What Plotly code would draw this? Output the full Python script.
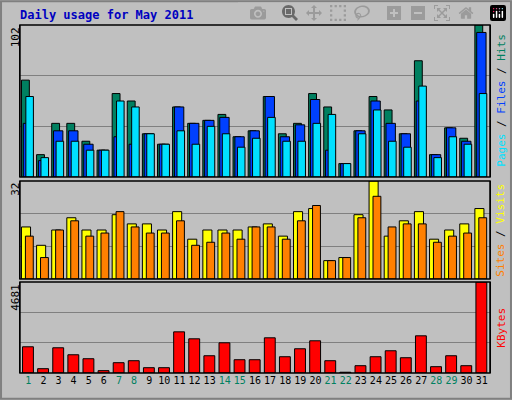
import plotly.graph_objects as go

days = list(range(1, 32))
hits = [65,15,36,36,24,18,56,51,29,22,47,36,38,42,27,31,54,29,36,56,47,9,31,54,45,29,78,15,33,26,102]
files = [36,11,31,31,22,18,27,22,29,22,47,36,38,40,27,31,54,27,35,52,18,9,31,51,36,29,51,15,33,24,97]
pages = [54,13,24,24,18,18,51,47,29,22,31,22,34,29,20,26,40,24,24,36,42,9,29,45,24,20,61,13,27,22,56]
sites = [17,11,16,20,16,16,21,18,18,16,22,13,16,16,16,17,18,14,22,23,6,7,21,32,14,19,22,13,16,18,23]
visits = [14,7,16,19,14,15,22,17,15,15,19,11,12,15,13,17,17,13,19,24,6,7,20,27,17,18,18,12,14,15,20]
kbytes = [1349,222,1298,939,734,120,530,632,273,273,2118,1759,888,1554,683,683,1810,837,1247,1657,632,40,376,837,1144,786,1913,325,888,376,4681]
weekend = {1,7,8,14,15,21,22,28,29}
ticktext = [f"<span style='color:#008060'>{d}</span>" if d in weekend else str(d) for d in days]

fig = go.Figure()
line = dict(color="black", width=1)
def bar(y, color, off, w, ax):
    fig.add_trace(go.Bar(x=days, y=y, marker=dict(color=color, line=line),
                         offset=off, width=w, xaxis="x", yaxis=ax))
bar(hits, "#008060", -0.45, 0.52, "y")
bar(files, "#0040ff", -0.33, 0.62, "y")
bar(pages, "#00e0ff", -0.16, 0.5, "y")
bar(sites, "#ffff00", -0.45, 0.6, "y2")
bar(visits, "#ff8000", -0.19, 0.52, "y2")
bar(kbytes, "#ff0000", -0.38, 0.72, "y3")

mono = "DejaVu Sans Mono"
def yax(dom, mx):
    return dict(domain=dom, range=[0, mx * 1.0], tickvals=[mx / 3, 2 * mx / 3],
                showticklabels=False, gridcolor="#808080", gridwidth=1,
                showline=True, linecolor="black", mirror=True, zeroline=False, fixedrange=True)
fig.update_layout(
    width=512, height=400, margin=dict(l=0, r=0, t=0, b=0),
    paper_bgcolor="#c0c0c0", plot_bgcolor="#c0c0c0", showlegend=False,
    barmode="overlay", font=dict(family=mono, size=11, color="black"),
    xaxis=dict(domain=[0.039, 0.957], range=[0.45, 31.55], tickvals=days, ticktext=ticktext,
               tickangle=0, showline=False, showgrid=False, ticks="", anchor="y3",
               tickfont=dict(size=10, family=mono)),
    yaxis=yax([0.5575, 0.9375], max(hits)),
    yaxis2=yax([0.3025, 0.5475], max(sites)),
    yaxis3=yax([0.0675, 0.295], max(kbytes)),
)
fig.update_layout(yaxis2_anchor="x", yaxis3_anchor="x")
for y0, y1 in [(0.5575, 0.9375), (0.3025, 0.5475), (0.0675, 0.295)]:
    fig.add_shape(type="rect", xref="paper", yref="paper", x0=0.039, x1=0.957, y0=y0, y1=y1,
                  line=dict(color="black", width=1.5))
fig.add_shape(type="rect", xref="paper", yref="paper", x0=0.002, x1=0.998, y0=0.003, y1=0.997,
              line=dict(color="#808080", width=2))
fig.add_annotation(text="<b>Daily usage for May 2011</b>", x=0.035, y=0.985, xref="paper", yref="paper",
                   xanchor="left", yanchor="top", showarrow=False, font=dict(color="#0000c0", size=12, family=mono))
for txt, yy in [("102", 0.9375), ("32", 0.5475), ("4681", 0.295)]:
    fig.add_annotation(text=txt, textangle=-90, x=0.03, y=yy, xref="paper", yref="paper",
                       xanchor="center", yanchor="top", showarrow=False, font=dict(size=11))
rl = [("<span style='color:#00e0ff'>Pages</span> / <span style='color:#0040ff'>Files</span> / <span style='color:#008060'>Hits</span>", 0.75),
      ("<span style='color:#ff8000'>Sites</span> / <span style='color:#ffff00'>Visits</span>", 0.425),
      ("<span style='color:#ff0000'>KBytes</span>", 0.18)]
for txt, yy in rl:
    fig.add_annotation(text=txt, textangle=-90, x=0.978, y=yy, xref="paper", yref="paper",
                       xanchor="center", yanchor="middle", showarrow=False, font=dict(size=11))
fig.write_html("out.html", post_script="document.body.style.margin='0';document.body.style.overflow='hidden';")
